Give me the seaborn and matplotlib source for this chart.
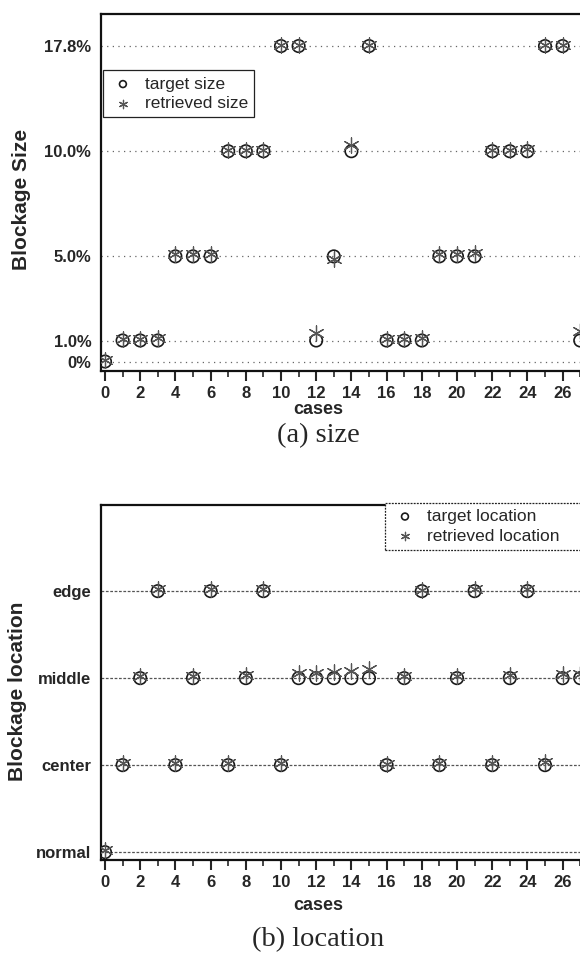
import numpy as np
import pandas as pd
import matplotlib
matplotlib.use("Agg")
import matplotlib.pyplot as plt
from matplotlib.ticker import MultipleLocator, FixedLocator
import seaborn as sns

# ---------------- data ----------------
cases = list(range(28))

size_levels = [0.0, 1.0, 5.0, 10.0, 17.8]
size_tick_labels = ["0%", "1.0%", "5.0%", "10.0%", "17.8%"]
target_size = [0, 1, 1, 1, 5, 5, 5, 10, 10, 10, 17.8, 17.8, 1, 5, 10, 17.8,
               1, 1, 1, 5, 5, 5, 10, 10, 10, 17.8, 17.8, 1]
retrieved_size = [0.05, 1.05, 1.05, 1.1, 5.1, 5.1, 5.1, 10.1, 10.1, 10.1, 17.9, 17.9,
                  1.38, 4.87, 10.45, 17.9, 1.05, 1.05, 1.1, 5.1, 5.1, 5.15, 10.1, 10.1,
                  10.15, 17.9, 17.9, 1.45]

location_levels = ["normal", "center", "middle", "edge"]
target_location = ["normal", "center", "middle", "edge", "center", "middle", "edge",
                   "center", "middle", "edge", "center", "middle", "middle", "middle",
                   "middle", "middle", "center", "middle", "edge", "center", "middle",
                   "edge", "center", "middle", "edge", "center", "middle", "middle"]
retrieved_location = [0.02, 1.02, 2.02, 3.02, 1.02, 2.03, 3.02, 1.03, 2.04, 3.02, 1.03,
                      2.06, 2.06, 2.07, 2.08, 2.11, 1.01, 2.02, 3.01, 1.02, 2.02, 3.02,
                      1.03, 2.04, 3.02, 1.04, 2.05, 2.05]

x_ticks = list(range(0, 27, 2))

# ---------------- style ----------------
sns.set_style("ticks")
plt.rcParams["font.family"] = ["Liberation Sans", "DejaVu Sans"]

W, H = 580, 958
fig = plt.figure(figsize=(W / 100, H / 100), dpi=100)

AX_L, AX_R = 101, 590
ax_w = AX_R - AX_L
ax1 = fig.add_axes([AX_L / W, 1 - 371 / H, ax_w / W, 357 / H])
ax2 = fig.add_axes([AX_L / W, 1 - 860 / H, ax_w / W, 355 / H])

x_px_per_unit = 17.6
xlim = (-4 / x_px_per_unit, (AX_R - 105) / x_px_per_unit)

# piecewise-linear scale for the size axis (levels equally spaced except 0-1%)
lv = np.array(size_levels)
pos = np.array([0.0, 0.2, 1.0, 2.0, 3.0])
lv_ext = np.concatenate([[lv[0] - 10 * (lv[1] - lv[0])], lv, [lv[-1] + 10 * (lv[-1] - lv[-2])]])
pos_ext = np.concatenate([[pos[0] - 10 * (pos[1] - pos[0])], pos, [pos[-1] + 10 * (pos[-1] - pos[-2])]])


def fwd(v):
    return np.interp(v, lv_ext, pos_ext)


def inv(p):
    return np.interp(p, pos_ext, lv_ext)


circle_kw = dict(marker="o", s=80, facecolor="none", edgecolor="#1a1a1a", linewidth=1.2)
star_kw = dict(marker=(6, 2, 0), s=120, color="#555555", linewidth=0.9)

legend_kw = dict(fontsize=12.5, frameon=True, fancybox=False, edgecolor="#222222",
                 framealpha=1, markerscale=0.55, handletextpad=0.45, handlelength=1.6,
                 labelspacing=0.25, borderpad=0.35, borderaxespad=0)

# ---------------- top: size ----------------
df1 = pd.DataFrame({"cases": cases, "target": target_size, "retrieved": retrieved_size})
ax1.set_yscale("function", functions=(fwd, inv))
sns.scatterplot(data=df1, x="cases", y="target", ax=ax1, label="target size", zorder=3, **circle_kw)
sns.scatterplot(data=df1, x="cases", y="retrieved", ax=ax1, label="retrieved size", zorder=4, **star_kw)
ax1.set_ylim(inv(-0.09), inv(3.305))
ax1.yaxis.set_major_locator(FixedLocator(size_levels))
ax1.yaxis.set_minor_locator(FixedLocator([]))
ax1.set_yticklabels(size_tick_labels)
ax1.yaxis.grid(True, linestyle=(0, (1, 3.5)), color="#666666", linewidth=0.9)
ax1.set_ylabel("Blockage Size", fontsize=15, fontweight="bold", va="center")
ax1.yaxis.set_label_coords((22 - AX_L) / ax_w, 0.48)

leg1 = ax1.legend(loc="upper left", bbox_to_anchor=(0.004, 0.842), **legend_kw)
leg1.get_frame().set_linewidth(0.9)

# ---------------- bottom: location ----------------
df2 = pd.DataFrame({"cases": cases,
                    "target": [location_levels.index(v) for v in target_location],
                    "retrieved": retrieved_location})
sns.scatterplot(data=df2, x="cases", y="target", ax=ax2, label="target location", zorder=3, **circle_kw)
sns.scatterplot(data=df2, x="cases", y="retrieved", ax=ax2, label="retrieved location", zorder=4, **star_kw)
ax2.set_ylim(-0.09, 3.99)
ax2.yaxis.set_major_locator(FixedLocator(range(len(location_levels))))
ax2.set_yticklabels(location_levels)
ax2.yaxis.grid(True, linestyle=(0, (2.2, 1.3)), color="#555555", linewidth=0.9)
ax2.set_ylabel("Blockage location", fontsize=15, fontweight="bold", va="center")
ax2.yaxis.set_label_coords((18 - AX_L) / ax_w, 0.476)

leg2_x0 = (385 - AX_L) / ax_w
leg2 = ax2.legend(loc="upper left", mode="expand",
                  bbox_to_anchor=(leg2_x0, 0.0, (600 - 385) / ax_w, 1.006), **legend_kw)
leg2.get_frame().set_linewidth(0.9)
leg2.get_frame().set_linestyle((0, (1.5, 1)))

# ---------------- common axis formatting ----------------
for ax in (ax1, ax2):
    ax.set_xlim(*xlim)
    ax.xaxis.set_major_locator(FixedLocator(x_ticks))
    ax.xaxis.set_minor_locator(MultipleLocator(1))
    ax.set_axisbelow(True)
    ax.tick_params(axis="x", which="major", direction="out", length=7, width=1.5,
                   labelsize=12, pad=4)
    ax.tick_params(axis="x", which="minor", direction="out", length=4, width=1.2)
    ax.tick_params(axis="y", which="both", length=0, labelsize=12, pad=7)
    for lab in ax.get_xticklabels() + ax.get_yticklabels():
        lab.set_fontweight("bold")
    for sp in ax.spines.values():
        sp.set_visible(True)
        sp.set_linewidth(1.6)
        sp.set_color("#111111")
    ax.set_xlabel("cases", fontsize=13, fontweight="bold", va="center")

ax1.xaxis.set_label_coords((318 - AX_L) / ax_w, -(410 - 371) / 357)
ax2.xaxis.set_label_coords((318 - AX_L) / ax_w, -(906 - 860) / 355)

fig.text(318 / W, 1 - 436 / H, "(a) size", ha="center", va="center",
         fontsize=20.5, family="Liberation Serif")
fig.text(318 / W, 1 - 940 / H, "(b) location", ha="center", va="center",
         fontsize=20.5, family="Liberation Serif")

fig.savefig("out.png", dpi=100)
